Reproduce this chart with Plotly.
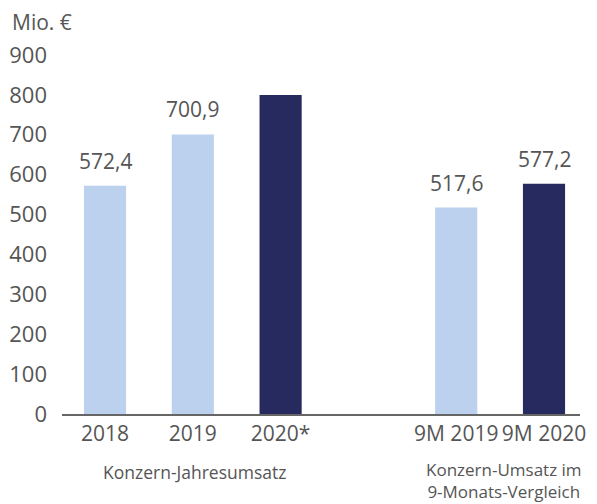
import plotly.graph_objects as go

categories = ["2018", "2019", "2020*", " ", "9M 2019", "9M 2020"]
values = [572.4, 700.9, 800.0, None, 517.6, 577.2]
labels = ["572,4", "700,9", "", "", "517,6", "577,2"]
colors = ["#bbd1ee", "#bbd1ee", "#262a5e", "#ffffff", "#bbd1ee", "#262a5e"]
y_ticks = [0, 100, 200, 300, 400, 500, 600, 700, 800, 900]
group_labels = ["Konzern-Jahresumsatz", "Konzern-Umsatz im<br>9-Monats-Vergleich"]

FONT = "Open Sans"
GREY = "#555555"

fig = go.Figure(go.Bar(
    x=categories, y=values, marker_color=colors, marker_line_width=0,
    hoverinfo="x+y",
))

value_annotations = [
    dict(text=t, x=i, y=v, xref="x", yref="y", yshift=25, showarrow=False,
         xanchor="center", yanchor="middle", font=dict(size=21, color=GREY))
    for i, (v, t) in enumerate(zip(values, labels)) if t
]

# page body has an 8px margin, so the figure is 8px smaller and offset
fig.update_layout(
    width=589, height=496,
    margin=dict(l=54, r=17, t=47, b=90),
    plot_bgcolor="white", paper_bgcolor="white",
    bargap=0.52, showlegend=False,
    separators=",.",
    font=dict(family=FONT, color=GREY),
    xaxis=dict(type="category", range=[-0.49, 5.41], showline=True, automargin=False,
               linecolor="#666666", linewidth=1.5, ticks="", showgrid=False,
               tickfont=dict(size=21, color=GREY)),
    yaxis=dict(range=[0, 900], tickvals=y_ticks, showgrid=False, zeroline=False,
               automargin=False,
               showline=False, tickfont=dict(size=22, color=GREY), ticklabelstandoff=14),
    annotations=value_annotations + [
        dict(text="Mio. €", xref="paper", yref="paper", x=0, y=1, yshift=33,
             xanchor="left", yanchor="middle", showarrow=False,
             font=dict(size=21, color=GREY), xshift=-52),
        dict(text=group_labels[0], xref="x", yref="paper", x=1.02, y=0, yshift=-58,
             xanchor="center", yanchor="middle", showarrow=False,
             font=dict(size=17.5, color=GREY)),
        dict(text=group_labels[1], xref="x", yref="paper", x=4.55, y=0, yshift=-66,
             xanchor="center", yanchor="middle", showarrow=False,
             font=dict(size=17, color=GREY)),
    ],
)

fig.write_html("out.html")
